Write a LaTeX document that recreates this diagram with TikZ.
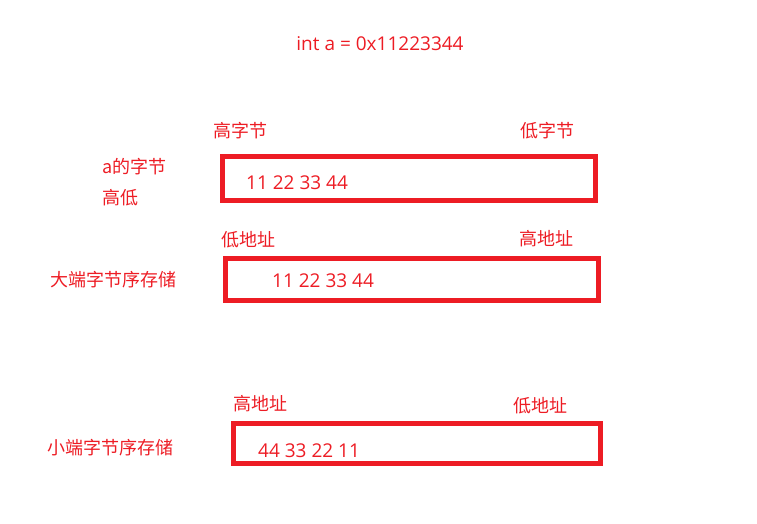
\documentclass[tikz,border=0pt]{standalone}
\usepackage{fontspec}
\setmainfont{Open Sans}
\newfontfamily\cjk{Noto Sans CJK SC}
\definecolor{pred}{HTML}{ED1C24}
\begin{document}
\begin{tikzpicture}[x=1pt,y=-1pt,
  lbl/.style={anchor=west,inner sep=0pt,text=pred,font=\fontsize{18}{21}\selectfont\cjk},
  num/.style={anchor=west,inner sep=0pt,text=pred,font=\fontsize{19}{22}\selectfont},
  membox/.style={draw=pred,line width=5pt}]
\useasboundingbox (0,0) rectangle (757,524);
\node[num,anchor=center] (title) at (380,44) {int a = 0x11223344};
% row 1
\node[lbl] (hb) at (213,131) {高字节};
\node[lbl] (lb) at (520,131) {低字节};
\node[lbl] (ab1) at (102,167) {a的字节};
\node[lbl] (ab2) at (102,198) {高低};
\draw[membox] (222.5,156.5) rectangle (595.5,200.8);
\node[num] (v1) at (246,183) {11 22 33 44};
% row 2
\node[lbl] (la2) at (221,240) {低地址};
\node[lbl] (ha2) at (519,239) {高地址};
\node[lbl] (big) at (50,280) {大端字节序存储};
\draw[membox] (225,258.3) rectangle (598.3,300.8);
\node[num] (v2) at (272,281) {11 22 33 44};
% row 3
\node[lbl] (ha3) at (233,404) {高地址};
\node[lbl] (la3) at (513,406) {低地址};
\node[lbl] (small) at (47,448) {小端字节序存储};
\draw[membox] (233.5,423.3) rectangle (600.2,463.5);
\node[num] (v3) at (258,451) {44 33 22 11};
\end{tikzpicture}
\end{document}
